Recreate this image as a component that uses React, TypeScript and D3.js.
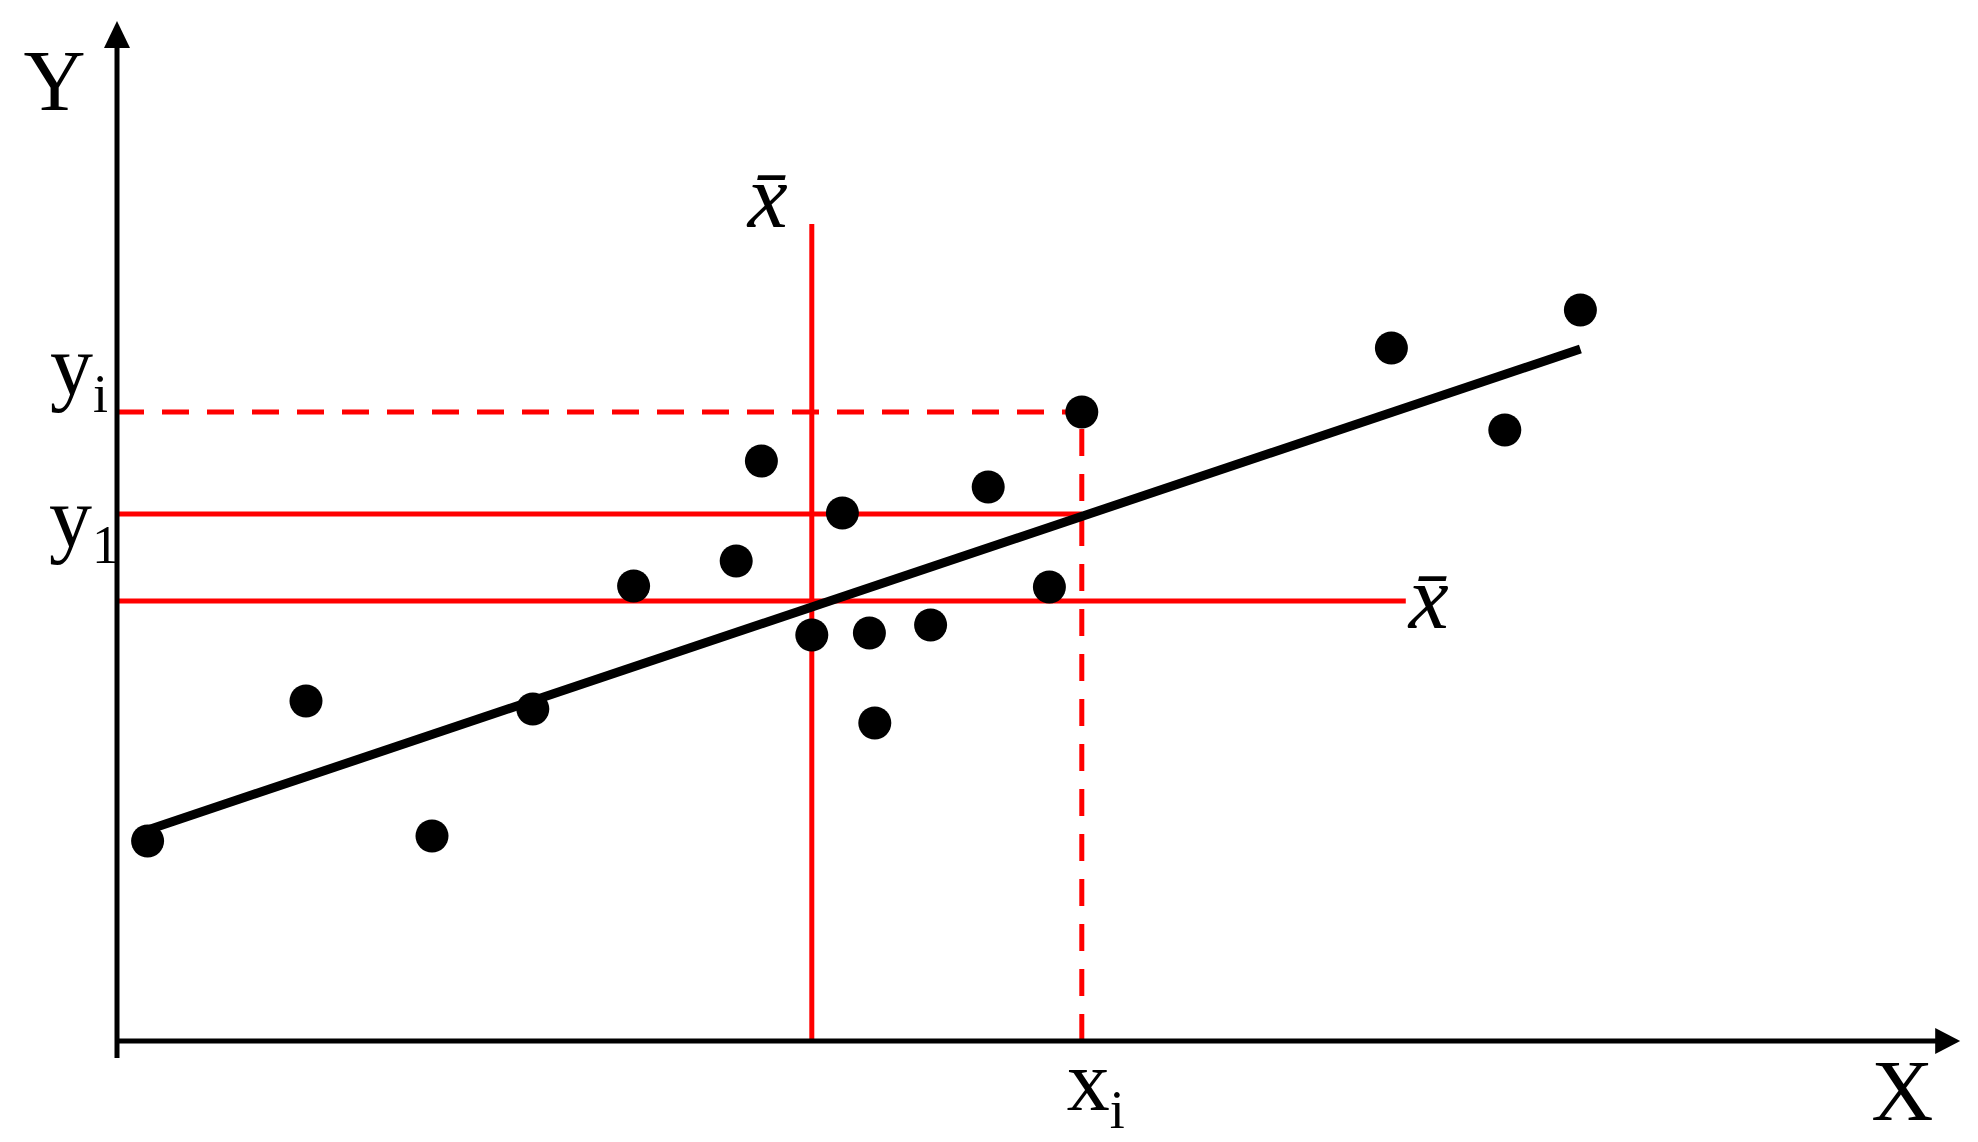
import React from "react";
import * as d3 from "d3";

// scatter points (axis units, origin at the axes' corner)
const pointX = [1.7, 10.5, 17.5, 23.1, 28.7, 34.4, 35.8, 38.6, 40.3, 41.8, 42.1, 45.2, 48.4, 51.8, 53.6, 70.8, 77.1, 81.3];
const pointY = [20.0, 34.0, 20.5, 33.2, 45.5, 48.0, 58.0, 40.6, 52.8, 40.8, 31.8, 41.6, 55.4, 45.4, 62.9, 69.3, 61.1, 73.1];

// fitted line end points
const fitX = [1.7, 81.3];
const fitY = [21.1, 69.2];

// reference lines
const xMean = 38.6;
const xMeanTop = 81.7;
const yMean = 44.0;
const yMeanEnd = 71.6;
const xi = 53.6;
const yi = 62.9;
const y1 = 52.7;

// axis extents
const xAxisEnd = 102.4;
const yAxisEnd = 102;
const yAxisBelow = -1.7;

const width = 1978;
const height = 1142;
const red = "#ff0000";
const serif = "'Liberation Serif', 'Times New Roman', serif";

export default function App() {
  const x = d3.scaleLinear().domain([0, 100]).range([117, 1917]);
  const y = d3.scaleLinear().domain([0, 100]).range([1041, 41]);

  const points = pointX.map((v, i) => ({ x: v, y: pointY[i] }));
  const fit = fitX.map((v, i) => [v, fitY[i]] as [number, number]);
  const line = d3.line<[number, number]>().x(d => x(d[0])).y(d => y(d[1]));

  const tipX = x(xAxisEnd);
  const tipY = y(yAxisEnd);
  const x0 = x(0);
  const y0 = y(0);

  return (
    <svg
      width={width}
      height={height}
      viewBox={`0 0 ${width} ${height}`}
      style={{ position: "absolute", left: 0, top: 0, background: "#fff" }}
      fontFamily={serif}
    >
      {/* red reference lines */}
      <line x1={x(xMean)} x2={x(xMean)} y1={y0} y2={y(xMeanTop)} stroke={red} strokeWidth={5} />
      <line x1={x0} x2={x(yMeanEnd)} y1={y(yMean)} y2={y(yMean)} stroke={red} strokeWidth={5} />
      <line x1={x0} x2={x(xi)} y1={y(y1)} y2={y(y1)} stroke={red} strokeWidth={5} />
      <line x1={x0} x2={x(xi)} y1={y(yi)} y2={y(yi)} stroke={red} strokeWidth={5} strokeDasharray="27 18" />
      <line x1={x(xi)} x2={x(xi)} y1={y0} y2={y(yi)} stroke={red} strokeWidth={5} strokeDasharray="27 18" />

      {/* fitted line */}
      <path d={line(fit) ?? ""} fill="none" stroke="#000" strokeWidth={9} />

      {/* points */}
      {points.map((d, i) => (
        <circle key={i} cx={x(d.x)} cy={y(d.y)} r={16.5} fill="#000" />
      ))}

      {/* axes */}
      <line x1={x0} x2={x0} y1={y(yAxisBelow)} y2={tipY + 20} stroke="#000" strokeWidth={5} />
      <path d={`M${x0},${tipY} L${x0 - 13},${tipY + 27} L${x0 + 13},${tipY + 27} Z`} fill="#000" />
      <line x1={x0} x2={tipX - 20} y1={y0} y2={y0} stroke="#000" strokeWidth={5} />
      <path d={`M${tipX},${y0} L${tipX - 25},${y0 - 13} L${tipX - 25},${y0 + 13} Z`} fill="#000" />

      {/* labels */}
      <text x={x0 - 62.5} y={110} fontSize={86} textAnchor="middle">Y</text>
      <text x={tipX - 58} y={1120} fontSize={86} textAnchor="middle">X</text>

      <text x={x0 - 67} y={394} fontSize={86}>
        y<tspan fontSize={54} dy={18}>i</tspan>
      </text>
      <text x={x0 - 68} y={546} fontSize={86}>
        y<tspan fontSize={54} dy={17}>1</tspan>
      </text>
      <text x={x(xi) - 15} y={1110} fontSize={86}>
        x<tspan fontSize={54} dy={18}>i</tspan>
      </text>

      <text x={x(xMean) - 64} y={227} fontSize={90} fontStyle="italic">x̄</text>
      <text x={x(yMeanEnd) + 3} y={628} fontSize={90} fontStyle="italic">x̄</text>
    </svg>
  );
}
